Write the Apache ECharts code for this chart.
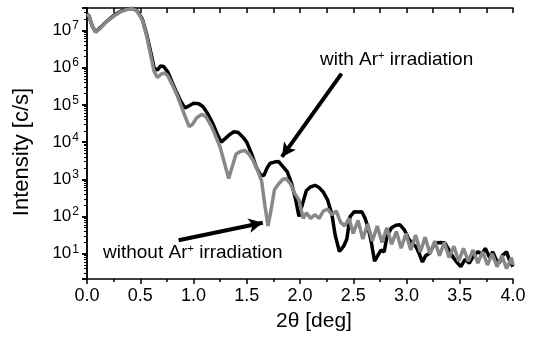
<!DOCTYPE html>
<html>
<head>
<meta charset="utf-8">
<script src="https://cdn.jsdelivr.net/npm/echarts@6/dist/echarts.min.js"></script>
<style>
html, body { margin: 0; padding: 0; background: #fff; }
#chart { width: 533px; height: 341px; }
</style>
</head>
<body>
<div id="chart"></div>
<script>
// 2theta [deg] and intensity [c/s]
var withX = [0.00, 0.02, 0.05, 0.08, 0.12, 0.18, 0.25, 0.32, 0.38, 0.43, 0.47, 0.52, 0.56, 0.60, 0.63, 0.66, 0.69, 0.72, 0.76, 0.80,
  0.84, 0.88, 0.92, 0.96, 1.00, 1.05, 1.09, 1.13, 1.18, 1.22, 1.26, 1.30, 1.34, 1.38, 1.42, 1.46, 1.50, 1.55, 1.59, 1.63,
  1.66, 1.69, 1.72, 1.76, 1.80, 1.84, 1.88, 1.92, 1.96, 1.99, 2.02, 2.06, 2.10, 2.14, 2.18, 2.22, 2.26, 2.30, 2.33, 2.37,
  2.41, 2.44, 2.47, 2.51, 2.55, 2.58, 2.61, 2.64, 2.67, 2.70, 2.73, 2.76, 2.79, 2.82, 2.86, 2.90, 2.94, 2.98, 3.02, 3.06,
  3.09, 3.12, 3.15, 3.18, 3.22, 3.25, 3.28, 3.32, 3.36, 3.40, 3.44, 3.48, 3.51, 3.55, 3.59, 3.63, 3.67, 3.71, 3.74, 3.78,
  3.81, 3.84, 3.87, 3.90, 3.94, 3.97, 4.00];
var withY = [2.8e7, 2.4e7, 1.3e7, 9.1e6, 1.15e7, 1.7e7, 2.5e7, 3.3e7, 3.8e7, 3.9e7, 3.4e7, 2.0e7, 7.9e6, 2.5e6, 1.0e6, 8.5e5, 1.1e6, 1.07e6, 7.6e5, 4.0e5,
  2.2e5, 1.26e5, 8.3e4, 9.5e4, 1.1e5, 1.07e5, 8.9e4, 6.0e4, 3.2e4, 1.7e4, 1.0e4, 1.26e4, 1.6e4, 1.9e4, 1.8e4, 1.4e4, 1.0e4, 4.5e3, 2.1e3, 1.3e3,
  1.26e3, 2.0e3, 2.7e3, 2.9e3, 3.0e3, 2.2e3, 1.6e3, 790, 280, 100, 200, 500, 630, 690, 600, 450, 275, 112, 32, 11.5,
  16, 25, 100, 135, 132, 135, 91, 50, 20, 6.3, 8.9, 12.6, 11.2, 32, 50, 58, 60, 44, 25, 18,
  15.5, 10, 6.0, 8.9, 10.5, 16, 19.5, 20, 19.5, 12.6, 7.9, 5.6, 4.5, 7.1, 5.6, 8.9, 11.2, 10, 14, 7.9,
  11.2, 7.1, 5.6, 8.9, 11.2, 6.3, 4.5];

var withoutX = [0.00, 0.02, 0.05, 0.08, 0.12, 0.18, 0.25, 0.32, 0.38, 0.43, 0.47, 0.52, 0.56, 0.60, 0.63, 0.66, 0.70, 0.73, 0.76, 0.80,
  0.84, 0.88, 0.92, 0.96, 0.99, 1.03, 1.08, 1.12, 1.17, 1.21, 1.25, 1.29, 1.33, 1.36, 1.40, 1.44, 1.48, 1.52, 1.56, 1.60,
  1.64, 1.67, 1.70, 1.73, 1.76, 1.80, 1.84, 1.87, 1.91, 1.95, 1.99, 2.03, 2.06, 2.10, 2.14, 2.18, 2.22, 2.26, 2.30, 2.34,
  2.38, 2.42, 2.46, 2.50, 2.545, 2.59, 2.635, 2.68, 2.725, 2.77, 2.815, 2.86, 2.905, 2.95, 2.995, 3.04, 3.085, 3.13, 3.175, 3.22,
  3.265, 3.31, 3.355, 3.40, 3.445, 3.49, 3.535, 3.58, 3.625, 3.67, 3.715, 3.76, 3.805, 3.85, 3.895, 3.94, 3.985, 4.00];
var withoutY = [2.8e7, 2.4e7, 1.3e7, 8.9e6, 1.1e7, 1.7e7, 2.4e7, 3.2e7, 3.7e7, 3.8e7, 3.3e7, 1.9e7, 7.1e6, 2.0e6, 7.9e5, 5.5e5, 6.8e5, 7.2e5, 6.0e5, 3.5e5,
  2.0e5, 1.0e5, 5.0e4, 2.6e4, 3.0e4, 4.5e4, 5.6e4, 4.7e4, 2.6e4, 1.4e4, 7.4e3, 2.8e3, 1.05e3, 2.0e3, 4.8e3, 5.6e3, 6.0e3, 4.8e3, 3.2e3, 1.8e3,
  890, 200, 56, 160, 525, 760, 1000, 1050, 760, 420, 280, 89, 126, 89, 112, 89, 141, 158, 112, 141,
  71, 56, 89, 35, 79, 25, 63, 22, 56, 20, 50, 18, 40, 14, 35, 12.6, 32, 11.2, 28, 10,
  22, 8.9, 20, 7.9, 16, 6.3, 14, 6.3, 12.6, 5.6, 11.2, 5.0, 10, 4.5, 8.9, 4.0, 7.9, 5.0];

// arrow ends in data coordinates: [2theta, intensity]
var arrowWith = [[2.39, 6.9e5], [1.83, 4.0e3]];
var arrowWithout = [[0.86, 23], [1.65, 68]];

var FONT = 'Liberation Sans, Arial, Helvetica, sans-serif';

function pairs(xs, ys) {
  var out = [];
  for (var i = 0; i < xs.length; i++) out.push([xs[i], ys[i]]);
  return out;
}

function powLabel(v) {
  var e = Math.round(Math.log(v) / Math.LN10);
  return '{b|10}{s|' + e + '}';
}

var chart = echarts.init(document.getElementById('chart'), null, { renderer: 'canvas' });

var option = {
  animation: false,
  backgroundColor: '#fff',
  grid: { left: 87, right: 20, top: 8, bottom: 62 },
  xAxis: [
    {
      type: 'value', min: 0, max: 4, interval: 0.5,
      axisLine: { lineStyle: { color: '#000', width: 1.5 } },
      axisTick: { inside: false, length: 5, lineStyle: { color: '#000', width: 1.5 } },
      minorTick: { show: true, splitNumber: 2, length: 3, lineStyle: { color: '#000', width: 1.5 } },
      axisLabel: { color: '#000', fontSize: 18, fontFamily: FONT, margin: 8,
        formatter: function (v) { return v.toFixed(1); } },
      splitLine: { show: false }
    },
    {
      type: 'value', min: 0, max: 4, interval: 0.25, position: 'top',
      axisLine: { lineStyle: { color: '#000', width: 1.5 } },
      axisTick: { inside: true, length: 5, lineStyle: { color: '#000', width: 1.5 } },
      axisLabel: { show: false },
      splitLine: { show: false }
    }
  ],
  yAxis: [
    {
      type: 'log', min: 2.1, max: 4e7, splitNumber: 7,
      axisLine: { lineStyle: { color: '#000', width: 1.5 } },
      axisTick: { inside: false, length: 5, lineStyle: { color: '#000', width: 1.5 } },
      minorTick: { show: true, splitNumber: 9, length: 3, lineStyle: { color: '#000', width: 1 } },
      axisLabel: {
        showMinLabel: false, showMaxLabel: false, margin: 8,
        formatter: powLabel,
        rich: {
          b: { color: '#000', fontSize: 17, fontFamily: FONT },
          s: { color: '#000', fontSize: 12, fontFamily: FONT, padding: [0, 0, 9, 1] }
        }
      },
      splitLine: { show: false }
    },
    {
      type: 'log', min: 2.1, max: 4e7, splitNumber: 7, position: 'right',
      axisLine: { lineStyle: { color: '#000', width: 1.5 } },
      axisTick: { inside: true, length: 5, lineStyle: { color: '#000', width: 1.5 } },
      minorTick: { show: true, splitNumber: 9, length: 3, lineStyle: { color: '#000', width: 1 } },
      axisLabel: { show: false },
      splitLine: { show: false }
    }
  ],
  series: [
    {
      name: 'with Ar+ irradiation', type: 'line', data: pairs(withX, withY),
      showSymbol: false, smooth: false,
      lineStyle: { color: '#000', width: 3.5 }, z: 2
    },
    {
      name: 'without Ar+ irradiation', type: 'line', data: pairs(withoutX, withoutY),
      showSymbol: false, smooth: false,
      lineStyle: { color: '#888', width: 3.5 }, z: 3,
      markLine: {
        silent: true, symbol: ['none', 'arrow'], symbolSize: [11, 14],
        label: { show: false },
        lineStyle: { color: '#000', width: 4, type: 'solid' },
        data: [
          [{ coord: arrowWith[0] }, { coord: arrowWith[1] }],
          [{ coord: arrowWithout[0] }, { coord: arrowWithout[1] }]
        ]
      }
    }
  ],
  graphic: [
    {
      type: 'text', left: 320, top: 50,
      style: {
        text: '{a|with Ar}{s|+}{a| irradiation}',
        rich: {
          a: { fontSize: 19, fontFamily: FONT, fill: '#000' },
          s: { fontSize: 11, fontFamily: FONT, fill: '#000', padding: [0, 0, 9, 0] }
        }
      }
    },
    {
      type: 'text', left: 103, top: 243,
      style: {
        text: '{a|without Ar}{s|+}{a| irradiation}',
        rich: {
          a: { fontSize: 19, fontFamily: FONT, fill: '#000' },
          s: { fontSize: 11, fontFamily: FONT, fill: '#000', padding: [0, 0, 9, 0] }
        }
      }
    },
    {
      type: 'text', x: 22, y: 152, rotation: Math.PI / 2,
      style: { text: 'Intensity [c/s]', fontSize: 22, fontFamily: FONT, fill: '#000', align: 'center', verticalAlign: 'middle' }
    },
    {
      type: 'text', x: 314, y: 321,
      style: { text: '2\u03b8 [deg]', fontSize: 21, fontFamily: FONT, fill: '#000', align: 'center', verticalAlign: 'middle' }
    }
  ]
};

chart.setOption(option);
</script>
</body>
</html>
